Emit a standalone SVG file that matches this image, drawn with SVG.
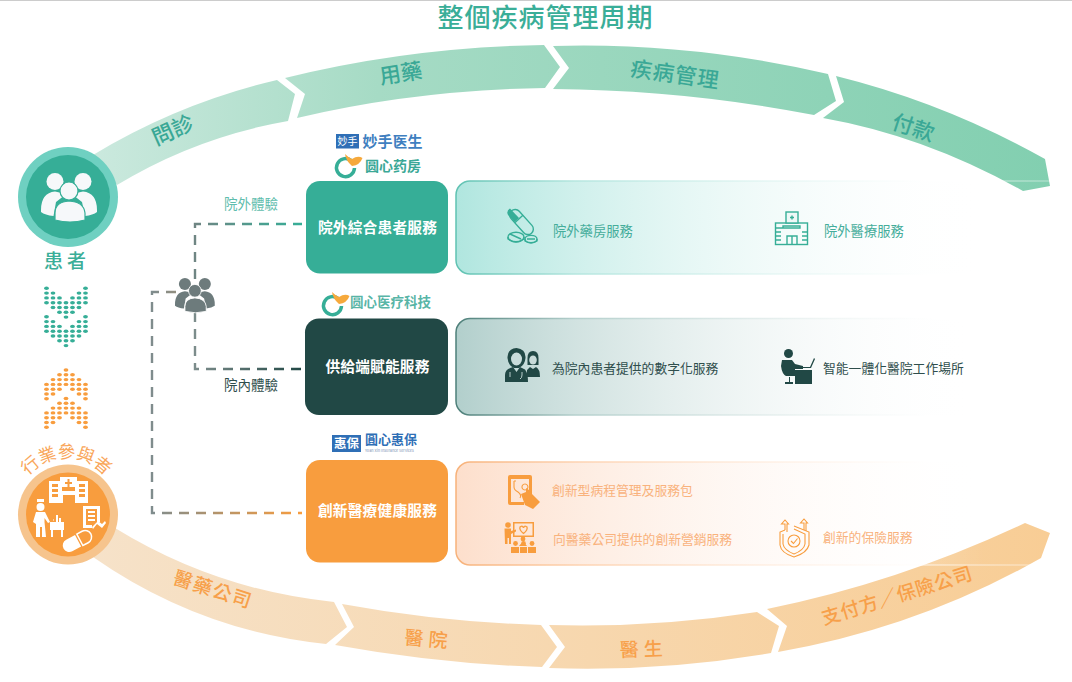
<svg xmlns="http://www.w3.org/2000/svg" xmlns:xlink="http://www.w3.org/1999/xlink" width="1072" height="682" viewBox="0 0 1072 682">
<style>
text{font-family:"Noto Sans CJK TC","Noto Sans CJK SC","Liberation Sans",sans-serif}
.node{font-size:14.7px;font-weight:700;fill:#fff;text-anchor:middle;letter-spacing:.2px}
.svc{font-size:12.8px}
.g{fill:#45ad9b}.d{fill:#2f4e4c}.o{fill:#f9b27c}
.arc-t{font-size:21.500px;font-weight:500;fill:#3aa896;text-anchor:middle}
.arc-b{font-size:19px;font-weight:500;fill:#f7a04a;text-anchor:middle}
.dash{fill:none;stroke-width:2.4;stroke-dasharray:10 7}
.lg{font-weight:700;fill:#3aa896}
.lb{font-weight:700;fill:#3f7fc0}
.ln{fill:none;stroke-width:1.4}
</style>
<defs>
<linearGradient id="gt" gradientUnits="userSpaceOnUse" x1="90" y1="0" x2="1050" y2="0"><stop offset="0" stop-color="#cbe9de"/><stop offset=".3" stop-color="#a6dbc5"/><stop offset="1" stop-color="#82cfb0"/></linearGradient>
<linearGradient id="gb" gradientUnits="userSpaceOnUse" x1="90" y1="0" x2="1050" y2="0"><stop offset="0" stop-color="#f6e2c9"/><stop offset="1" stop-color="#f8cd95"/></linearGradient>
<linearGradient id="f1" gradientUnits="userSpaceOnUse" x1="456" y1="0" x2="985" y2="0"><stop offset="0" stop-color="#b0e6df"/><stop offset="1" stop-color="#fff" stop-opacity="0"/></linearGradient>
<linearGradient id="f2" gradientUnits="userSpaceOnUse" x1="456" y1="0" x2="975" y2="0"><stop offset="0" stop-color="#b2cfcc"/><stop offset="1" stop-color="#fff" stop-opacity="0"/></linearGradient>
<linearGradient id="f3" gradientUnits="userSpaceOnUse" x1="456" y1="0" x2="985" y2="0"><stop offset="0" stop-color="#fddfcc"/><stop offset="1" stop-color="#fff" stop-opacity="0"/></linearGradient>
<linearGradient id="s1" gradientUnits="userSpaceOnUse" x1="456" y1="0" x2="1050" y2="0"><stop offset="0" stop-color="#5fc2b2"/><stop offset=".2" stop-color="#b5e6df"/><stop offset=".8" stop-color="#fff" stop-opacity=".5"/><stop offset="1" stop-color="#fff" stop-opacity=".3"/></linearGradient>
<linearGradient id="s2" gradientUnits="userSpaceOnUse" x1="456" y1="0" x2="1050" y2="0"><stop offset="0" stop-color="#4d7f79"/><stop offset=".2" stop-color="#b5d0cd"/><stop offset=".8" stop-color="#fff" stop-opacity=".5"/><stop offset="1" stop-color="#fff" stop-opacity=".3"/></linearGradient>
<linearGradient id="s3" gradientUnits="userSpaceOnUse" x1="456" y1="0" x2="1050" y2="0"><stop offset="0" stop-color="#f7b27a"/><stop offset=".2" stop-color="#fdd2b0"/><stop offset=".8" stop-color="#fff" stop-opacity=".5"/><stop offset="1" stop-color="#fff" stop-opacity=".3"/></linearGradient>
<linearGradient id="c1" gradientUnits="userSpaceOnUse" x1="195" y1="0" x2="302" y2="0"><stop offset="0" stop-color="#6f8583"/><stop offset="1" stop-color="#36ae97"/></linearGradient>
<linearGradient id="c2" gradientUnits="userSpaceOnUse" x1="195" y1="0" x2="302" y2="0"><stop offset="0" stop-color="#7c8c8b"/><stop offset="1" stop-color="#214845"/></linearGradient>
<linearGradient id="c3" gradientUnits="userSpaceOnUse" x1="152" y1="0" x2="302" y2="0"><stop offset="0" stop-color="#7f8c8d"/><stop offset="1" stop-color="#f89d3e"/></linearGradient>
<g id="people">
<circle cx="14" cy="8.500" r="8.500" stroke="none"/><circle cx="42" cy="8.500" r="8.500" stroke="none"/>
<path stroke="none" d="M0 37Q0 20 14 18.500Q20 19 24 22L15 29L12.500 43Q4 42 0 39Z"/>
<path stroke="none" d="M56 37Q56 20 42 18.500Q36 19 32 22L41 29L44 43Q52 42 56 39Z"/>
<circle cx="28" cy="18" r="9" stroke-width="1.200"/>
<path stroke-width="1.200" d="M14 47V40Q14 29 28 28Q43 29 44 40V47Q29 51 14 47Z"/>
</g>
<g id="chev">
<ellipse cx="-19.500" cy="0" rx="2.400" ry="1.700"/><ellipse cx="-19.500" cy="4.800" rx="2.400" ry="1.700"/><ellipse cx="-19.500" cy="9.600" rx="2.400" ry="1.700"/><ellipse cx="-19.500" cy="14.400" rx="2.400" ry="1.700"/>
<ellipse cx="-13" cy="4.800" rx="2.400" ry="1.700"/><ellipse cx="-13" cy="9.600" rx="2.400" ry="1.700"/><ellipse cx="-13" cy="14.400" rx="2.400" ry="1.700"/><ellipse cx="-13" cy="19.200" rx="2.400" ry="1.700"/>
<ellipse cx="-6.500" cy="9.600" rx="2.400" ry="1.700"/><ellipse cx="-6.500" cy="14.400" rx="2.400" ry="1.700"/><ellipse cx="-6.500" cy="19.200" rx="2.400" ry="1.700"/><ellipse cx="-6.500" cy="24" rx="2.400" ry="1.700"/>
<ellipse cx="0" cy="14.400" rx="2.400" ry="1.700"/><ellipse cx="0" cy="19.200" rx="2.400" ry="1.700"/><ellipse cx="0" cy="24" rx="2.400" ry="1.700"/><ellipse cx="0" cy="28.800" rx="2.400" ry="1.700"/>
<ellipse cx="6.500" cy="9.600" rx="2.400" ry="1.700"/><ellipse cx="6.500" cy="14.400" rx="2.400" ry="1.700"/><ellipse cx="6.500" cy="19.200" rx="2.400" ry="1.700"/><ellipse cx="6.500" cy="24" rx="2.400" ry="1.700"/>
<ellipse cx="13" cy="4.800" rx="2.400" ry="1.700"/><ellipse cx="13" cy="9.600" rx="2.400" ry="1.700"/><ellipse cx="13" cy="14.400" rx="2.400" ry="1.700"/><ellipse cx="13" cy="19.200" rx="2.400" ry="1.700"/>
<ellipse cx="19.500" cy="0" rx="2.400" ry="1.700"/><ellipse cx="19.500" cy="4.800" rx="2.400" ry="1.700"/><ellipse cx="19.500" cy="9.600" rx="2.400" ry="1.700"/><ellipse cx="19.500" cy="14.400" rx="2.400" ry="1.700"/>
</g>
<g id="mark">
<path d="M351 160.500A9 9 0 1 0 354.500 168" fill="none" stroke="#36ae97" stroke-width="3.500"/>
<path d="M345 154Q349 158 352 159Q358 155 362.500 158Q360 165 352 166Q346 161 345 154Z" fill="#f6a93c"/>
</g>
<path id="arcp" d="M16.500 508A50 50 0 0 1 116.500 508"/>
</defs>

<rect width="1072" height="682" fill="#fff"/>
<rect width="1072" height="1" fill="#cccccc"/>
<text x="545.500" y="26.500" font-size="26" font-weight="500" fill="#3aae98" text-anchor="middle" letter-spacing="1">整個疾病管理周期</text>

<g id="arc-top" fill="url(#gt)">
<path d="M93 155Q179 103 277 80L295 94L288 121Q196 137 117 185Z"/>
<path d="M285 78Q410 47 544 45L560 67L545 88Q415 90 297 118L305 94Z"/>
<path d="M553 46Q690 42 828 74L836 101L814 115Q685 90 553 89L569 68Z"/>
<path d="M836 76Q945 103 1045 159L1050 186L1023 191Q925 136 823 118L844 102Z"/>
<text class="arc-t" transform="translate(176 137) rotate(-24)">問診</text>
<text class="arc-t" transform="translate(402 81) rotate(-9)">用藥</text>
<text class="arc-t" transform="translate(674 82) rotate(8)" letter-spacing="1">疾病管理</text>
<text class="arc-t" transform="translate(911 135) rotate(18)">付款</text>
</g>
<g id="arc-bottom" fill="url(#gb)">
<path d="M115 528Q216 590 334 602L347 627L326 644Q199 631 93 557Z"/>
<path d="M342 604Q440 622 541 625L557 647L542 667Q440 664 335 645L354 627Z"/>
<path d="M549 625Q655 628 757 612L779 626L771 653Q660 672 549 668L565 647Z"/>
<path d="M767 609Q900 582 1025 523L1050 533L1041 558Q918 628 778 652L787 626Z"/>
<text class="arc-b" transform="translate(211 596) rotate(18)" letter-spacing="1.500">醫藥公司</text>
<text class="arc-b" transform="translate(428 646) rotate(5)" letter-spacing="5">醫院</text>
<text class="arc-b" transform="translate(644 656) rotate(-2)" letter-spacing="5">醫生</text>
<text class="arc-b" transform="translate(899 602) rotate(-17)" letter-spacing=".6">支付方／保險公司</text>
</g>

<g id="connectors" class="connectors">
<path class="dash" stroke="url(#c1)" d="M195 279V224H302"/>
<path class="dash" stroke="url(#c2)" d="M195 312V369H302"/>
<path class="dash" stroke="url(#c3)" d="M176 292H152V513H302"/>
</g>

<g id="people-hub"><use href="#people" xlink:href="#people" transform="translate(175 278) scale(.71)" fill="#6d7b7c" stroke="#fff"/></g>
<text x="251" y="209" font-size="13.500" fill="#5fbdad" text-anchor="middle">院外體驗</text>
<text x="251" y="390" font-size="13.500" fill="#2f4e4c" text-anchor="middle">院內體驗</text>

<g id="patient">
<circle cx="68" cy="197" r="50" fill="#6fd0c1"/><circle cx="68" cy="197" r="42" fill="#36ae97"/>
<use href="#people" xlink:href="#people" transform="translate(41 173)" fill="#f6f8fa" stroke="#36ae97"/>
<text x="67" y="268" font-size="19" font-weight="500" fill="#3aae98" text-anchor="middle" letter-spacing="4">患者</text>
</g>
<use href="#chev" xlink:href="#chev" transform="translate(66 288.300)" fill="#36ae97"/>
<use href="#chev" xlink:href="#chev" transform="translate(66 316.800)" fill="#36ae97"/>
<use href="#chev" xlink:href="#chev" transform="translate(66 398.800) scale(1 -1)" fill="#f89d3e"/>
<use href="#chev" xlink:href="#chev" transform="translate(66 427.300) scale(1 -1)" fill="#f89d3e"/>

<g id="industry">
<text font-size="17.500" fill="#f9a65a" text-anchor="middle"><textPath href="#arcp" xlink:href="#arcp" startOffset="50%">行業參與者</textPath></text>
<circle cx="68" cy="514.500" r="50" fill="#f6c48d"/><circle cx="68" cy="514.500" r="42" fill="#f89d3e"/>
<g fill="#fff">
<path fill-rule="evenodd" d="M60 477H77V481H88V503H75V495H63V503H49V481H60ZM67.500 479V482H65V484H67.500V487H69.500V484H72V482H69.500V479ZM52 484V487H58V484ZM52 489V492H58V489ZM52 494V497H58V494ZM62 487V491H75V487ZM79 484V487H85V484ZM79 489V492H85V489ZM79 494V497H85V494Z"/>
<path d="M37 499H44V502H37ZM40.500 503A4 4 0 1 1 40.500 511A4 4 0 1 1 40.500 503ZM36 512H45L50 522L48 523L44.500 518V522L46 537H42V527H40V537H36V524L33 522Z"/>
<path d="M50 522H64V530H50ZM51 530H53V537H51ZM61 530H63V537H61ZM53 520L54 519V521ZM56 515H58V522H56ZM59 518H61V522H59Z"/>
<path fill-rule="evenodd" d="M83 506H100V522H97V509H86V525H92V528H83ZM88 511H95V513H88ZM88 515H95V517H88ZM88 519H95V521H88Z"/>
<path d="M92 527L98 521L102 524L105 521L106 523L102 528L97 524L93 529Z"/>
<g transform="rotate(-28 78.500 540.500)"><path d="M68 534H78V547H68A6.500 6.500 0 0 1 68 534Z"/><path d="M80 534H86A6.500 6.500 0 0 1 86 547H80Z" fill="none" stroke="#fff" stroke-width="1.500"/></g>
</g>
</g>

<g id="node-outpatient">
<rect x="306" y="181" width="142" height="92.500" rx="14" fill="#36ae97"/>
<text class="node" x="377.500" y="232.500">院外綜合患者服務</text>
</g>
<g id="node-supply">
<rect x="305" y="318.500" width="143" height="96.500" rx="14" fill="#214845"/>
<text class="node" x="377.500" y="371.500">供給端賦能服務</text>
</g>
<g id="node-innovative">
<rect x="306" y="460" width="142" height="102.500" rx="14" fill="#f89d3e"/>
<text class="node" x="377.500" y="516">創新醫療健康服務</text>
</g>

<g id="card-outpatient">
<rect x="456" y="181" width="620" height="93" rx="14" fill="url(#f1)" stroke="url(#s1)" stroke-width="1.500"/>
<g class="ln" stroke="#36ae97">
<g transform="rotate(-42 521.500 222)"><rect x="516" y="207" width="11" height="30" rx="5.500"/><path d="M516 218H527"/></g>
<path d="M510 208.500L519 218L514.500 222L508 215Q506 211 510 208.500Z" fill="#36ae97" stroke="none"/>
<ellipse cx="516" cy="237" rx="8" ry="4.800"/><path d="M508 237V239Q516 245 524 239V237M510 234L521 239"/>
<ellipse cx="531" cy="239" rx="6" ry="3.600"/><path d="M525 239V241Q531 245 537 241V239M527 239H535"/>
</g>
<text class="svc g" x="553" y="236" font-size="13.300" style="font-size:13.300px">院外藥房服務</text>
<g class="ln" stroke="#36ae97">
<rect x="775.500" y="223" width="32" height="21.500"/>
<rect x="786" y="212" width="12" height="11" fill="#eef8f7"/>
<path d="M790 217.500H794M792 215.500V219.500M783 226H800V228H783ZM787 244V236H797V244M792 236V244M775.500 228H783M775.500 232H781M775.500 236H781M775.500 240H781M802 232H807.500M802 236H807.500M802 240H807.500"/>
</g>
<text class="svc g" x="824" y="236" style="font-size:13.300px">院外醫療服務</text>
</g>

<g id="card-supply">
<rect x="456" y="318.500" width="620" height="96.500" rx="14" fill="url(#f2)" stroke="url(#s2)" stroke-width="1.500"/>
<g fill="#214845">
<path d="M516.500 348Q526 349 525.500 358Q525 365 519 368H514Q508 365 507.500 358Q507 349 516.500 348Z"/>
<path d="M505 382V375Q505 369 513 367L516.500 372L520 367L525 369.500Q528 373 528 382Z"/>
<path d="M533 351Q538.500 351 538.500 358V365H527.500V358Q527.500 351 533 351Z"/>
<path d="M527 377V370L530 367L533 369L536 367Q540 369 540 377Z"/>
</g>
<g fill="#c9dcda"><ellipse cx="516.500" cy="359" rx="5.500" ry="6.500"/><ellipse cx="533" cy="360" rx="3.800" ry="4.500"/></g>
<path d="M510 372V377M522 372V375Q522 378 520 379" fill="none" stroke="#c9dcda" stroke-width=".9"/>
<text class="svc d" x="552" y="373">為院內患者提供的數字化服務</text>
<g fill="#214845">
<circle cx="788.500" cy="353.500" r="4.500"/>
<path d="M782 360H792L795 364L803 366V369H795V376H786Q782 374 781 366ZM789 377V382H785V384H793V382H790V377ZM795 370H812V384H795ZM803 368H811L815 359L814 358L810 367H803Z"/>
</g>
<text class="svc d" x="823" y="373">智能一體化醫院工作場所</text>
</g>

<g id="card-innovative">
<rect x="456" y="462" width="620" height="103" rx="14" fill="url(#f3)" stroke="url(#s3)" stroke-width="1.500"/>
<g fill="#f89d3e">
<path fill-rule="evenodd" d="M510 475H530Q532 475 532 477V495H529V479H511V502H524V505H510Q508 505 508 503V477Q508 475 510 475Z"/>
<path d="M521 494L526 492L526 488L529 490V487L532 494L540 502L533 509L525 505Z"/>
<path d="M514 481V487Q514 490 518 492Q522 495 520 498M514 481H516M525 484A3 3 0 1 1 524.900 484" fill="none" stroke="#f89d3e" stroke-width="1.100"/>
</g>
<text class="svc o" x="552" y="495">創新型病程管理及服務包</text>
<g fill="#f89d3e">
<circle cx="508" cy="525" r="2.800"/><path d="M504.500 528.500H511V531L516 529.500V531.500L511 534V544H509V538H507.500V544H505Z"/>
<path fill-rule="evenodd" d="M513 522H534V537H513ZM514.500 523.500V535.500H532.500V523.500Z"/>
<path d="M520 527Q523 525 523.500 528Q524 525 527 527Q528 530 523.500 533.500Q519 530 520 527Z" fill="none" stroke="#f89d3e" stroke-width="1.300"/>
<circle cx="523" cy="539" r="2.400"/><circle cx="515.500" cy="543.500" r="2.400"/><circle cx="523.500" cy="543.500" r="2.400"/><circle cx="532" cy="543.500" r="2.400"/>
<path d="M519 546Q523 540 527 546ZM511 547H519V553H511ZM520 547H527V553H520ZM528 547H536V553H528Z"/>
</g>
<text class="svc o" x="553" y="544">向醫藥公司提供的創新營銷服務</text>
<g fill="none" stroke="#f89d3e" stroke-width="1.100">
<path d="M794 526L809 532V545Q807 553 794 557Q781 553 780 545V532L785 530M794 529L805 534V544Q804 550 794 554Q784 550 783 544V534"/>
<path d="M785 530V524H781.500L785 520L788.500 524H787V532M804 530V523H800.500L804 519L807.500 523H806V531"/>
<circle cx="794" cy="541" r="6"/><path d="M791 541L793.500 543.500L797.500 538.500"/>
</g>
<text class="svc o" x="823" y="542">創新的保險服務</text>
</g>

<g id="logo-miaoshou">
<rect x="336" y="134" width="23" height="14.500" fill="#2f6fb6"/>
<text x="347.500" y="145" font-size="10" fill="#fff" text-anchor="middle">妙手</text>
<text class="lb" x="362.500" y="146.500" font-size="15">妙手医生</text>
</g>
<g id="logo-pharmacy">
<use href="#mark" xlink:href="#mark"/>
<text class="lg" x="365" y="171" font-size="14">圆心药房</text>
</g>
<g id="logo-tech">
<use href="#mark" xlink:href="#mark" transform="translate(-13 138)"/>
<text class="lg" x="350" y="307" font-size="13.500" fill-opacity=".85">圆心医疗科技</text>
</g>
<g id="logo-insurance">
<rect x="332" y="435" width="29" height="17" fill="#2f6fb6"/>
<text x="346.500" y="448" font-size="12.500" font-weight="700" fill="#fff" text-anchor="middle">惠保</text>
<text x="365" y="444" font-size="13" font-weight="700" fill="#2f6fb6">圓心惠保</text>
<text x="365" y="452" font-size="3.800" fill="#7a93b5">Yuan Xin Insurance Services</text>
</g>
</svg>
